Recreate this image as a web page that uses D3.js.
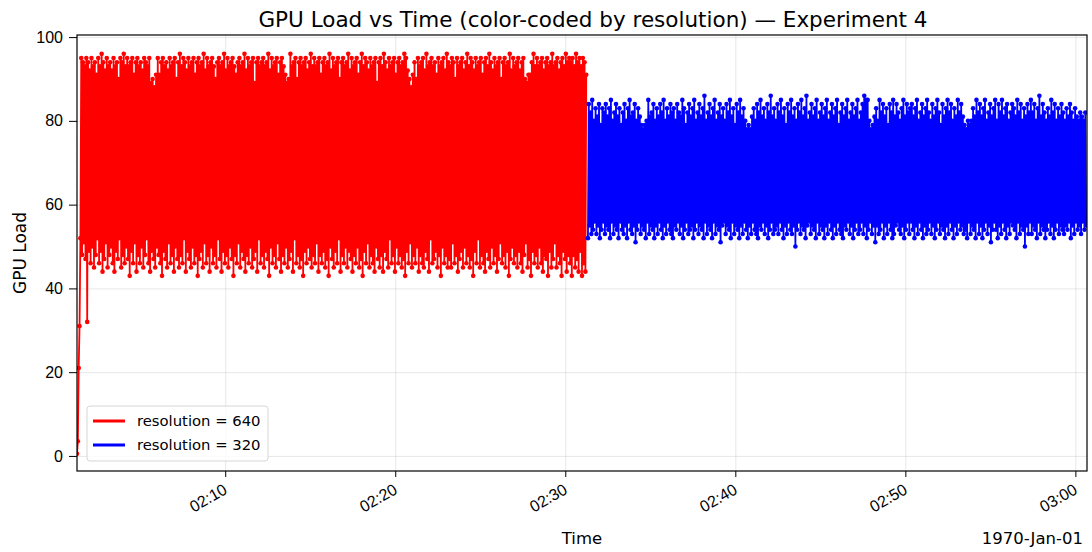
<!DOCTYPE html>
<html>
<head>
<meta charset="utf-8">
<script src="https://cdn.jsdelivr.net/npm/d3@7"></script>
<style>
  body { margin: 0; background: #fff; }
  svg { font-family: "DejaVu Sans", sans-serif; }
  .axis path, .axis line { stroke: #000; }
  .grid line { stroke: #b0b0b0; stroke-opacity: 0.3; }
  .grid path { display: none; }
</style>
</head>
<body>
<svg id="chart" width="1092" height="552"></svg>
<script>
'use strict';

let redStart = "02:01:17",
    blueStart = "02:31:20",
    stepSec = 3,
    xLimits = ["02:01:17", "03:00:41"];

let redLoad = [
  0.5, 3.5, 21, 31, 52, 95, 48, 94, 51, 93, 47, 95, 32, 94, 49, 92, 46, 95, 50, 93,
  45, 94, 48, 91, 52, 95, 46, 93, 49, 96, 44, 94, 47, 92, 51, 95, 45, 93, 48, 94,
  50, 92, 46, 95, 44, 93, 49, 94, 47, 90, 52, 95, 45, 94, 48, 96, 46, 93, 50, 95,
  47, 93, 43, 94, 49, 95, 46, 91, 51, 94, 44, 95, 48, 93, 46, 94, 50, 92, 45, 95,
  48, 94, 52, 93, 46, 95, 44, 89, 49, 90, 47, 88, 45, 91, 50, 95, 48, 91, 46, 94,
  43, 95, 49, 93, 47, 94, 45, 92, 51, 95, 46, 93, 48, 94, 44, 95, 50, 90, 47, 94,
  45, 96, 48, 93, 46, 95, 52, 94, 44, 92, 49, 95, 47, 93, 45, 94, 50, 95, 46, 91,
  48, 94, 43, 95, 47, 93, 49, 94, 45, 96, 51, 92, 46, 95, 48, 93, 44, 94, 50, 95,
  46, 93, 48, 90, 45, 94, 52, 95, 47, 93, 44, 94, 49, 96, 46, 92, 48, 95, 45, 93,
  50, 94, 47, 95, 43, 93, 48, 91, 46, 94, 51, 95, 45, 93, 49, 94, 47, 96, 44, 92,
  48, 95, 46, 93, 50, 94, 45, 95, 47, 89, 49, 94, 44, 95, 52, 93, 46, 94, 48, 95,
  45, 93, 49, 94, 47, 96, 43, 92, 50, 95, 46, 93, 48, 94, 45, 95, 51, 91, 47, 94,
  44, 95, 48, 93, 46, 91, 50, 89, 45, 90, 47, 96, 49, 93, 44, 94, 52, 95, 46, 90,
  48, 94, 45, 95, 47, 93, 43, 94, 49, 95, 46, 92, 50, 94, 47, 96, 45, 93, 48, 95,
  46, 93, 51, 94, 44, 95, 48, 91, 46, 94, 49, 95, 45, 93, 47, 94, 43, 96, 50, 92,
  47, 95, 45, 93, 49, 94, 46, 95, 52, 90, 44, 94, 48, 95, 46, 93, 50, 94, 45, 96,
  49, 92, 47, 95, 44, 93, 48, 94, 46, 95, 50, 91, 45, 94, 47, 96, 43, 93, 49, 95,
  46, 94, 51, 92, 45, 95, 48, 93, 46, 94, 44, 95, 50, 89, 47, 94, 45, 95, 48, 93,
  44, 96, 49, 94, 47, 92, 45, 95, 52, 93, 46, 94, 48, 95, 44, 91, 50, 94, 46, 95,
  48, 93, 45, 94, 47, 96, 43, 95, 49, 92, 46, 90, 51, 88, 45, 91, 48, 94, 46, 90,
  50, 95, 44, 93, 48, 94, 46, 95, 45, 92, 49, 96, 47, 93, 44, 94, 52, 95, 46, 93,
  47, 94, 49, 91, 45, 95, 48, 93, 43, 94, 50, 95, 46, 92, 48, 96, 45, 94, 47, 93,
  45, 95, 51, 94, 46, 90, 48, 95, 44, 93, 47, 94, 49, 95, 45, 92, 50, 94, 46, 96,
  48, 93, 45, 95, 47, 94, 43, 92, 49, 95, 46, 93, 52, 94, 45, 95, 48, 91, 46, 94,
  44, 95, 49, 93, 47, 96, 45, 94, 50, 92, 46, 95, 48, 93, 44, 94, 47, 95, 51, 90,
  46, 94, 48, 95, 45, 93, 49, 94, 43, 96, 47, 92, 50, 95, 46, 93, 48, 94, 45, 95,
  49, 92, 46, 94, 44, 95, 48, 90, 51, 89, 45, 91, 47, 91, 43, 94, 49, 96, 46, 93,
  48, 95, 45, 93, 50, 94, 46, 95, 44, 92, 48, 94, 47, 95, 43, 93, 49, 94, 45, 96,
  47, 93, 51, 94, 45, 95, 48, 92, 46, 94, 43, 95, 49, 93, 47, 96, 44, 94, 48, 95,
  46, 94, 43, 95, 48, 93, 45, 96, 47, 94, 44, 95, 49, 93, 43, 95, 46, 94, 44, 91
];

let blueLoad = [
  52, 84, 55, 82, 53, 85, 54, 80, 56, 83, 53, 81, 55, 84, 52, 79, 54, 83, 56, 82,
  53, 84, 55, 81, 54, 83, 52, 85, 56, 80, 53, 82, 55, 84, 54, 81, 52, 83, 56, 79,
  54, 82, 53, 84, 55, 80, 52, 83, 56, 85, 54, 81, 53, 82, 55, 84, 51, 80, 54, 83,
  56, 81, 53, 79, 55, 78, 54, 79, 52, 80, 56, 85, 53, 81, 55, 82, 54, 84, 52, 80,
  55, 83, 53, 81, 56, 84, 54, 82, 52, 85, 55, 80, 53, 83, 56, 81, 54, 84, 53, 82,
  52, 83, 55, 80, 54, 84, 56, 82, 53, 81, 55, 85, 52, 83, 54, 79, 56, 82, 53, 84,
  54, 81, 55, 83, 52, 85, 54, 80, 56, 82, 53, 84, 55, 81, 54, 83, 52, 86, 56, 80,
  53, 82, 55, 84, 54, 81, 52, 83, 56, 85, 53, 80, 55, 82, 54, 84, 51, 81, 55, 83,
  56, 80, 53, 84, 55, 82, 54, 85, 52, 81, 56, 83, 53, 79, 55, 84, 54, 82, 52, 85,
  55, 81, 53, 83, 56, 80, 54, 78, 52, 79, 55, 78, 53, 81, 56, 83, 54, 80, 53, 84,
  52, 82, 55, 85, 54, 81, 56, 83, 53, 80, 55, 84, 52, 82, 54, 86, 56, 81, 53, 83,
  54, 80, 55, 84, 53, 82, 56, 85, 54, 81, 52, 83, 55, 79, 53, 84, 56, 82, 54, 85,
  53, 81, 55, 83, 50, 80, 54, 84, 56, 82, 53, 85, 55, 81, 54, 83, 52, 86, 55, 80,
  56, 82, 53, 84, 55, 81, 54, 83, 52, 85, 56, 80, 53, 82, 55, 84, 54, 81, 52, 83,
  55, 85, 53, 80, 56, 82, 54, 84, 52, 81, 55, 83, 53, 85, 56, 79, 54, 82, 53, 84,
  52, 81, 55, 83, 54, 85, 56, 80, 53, 82, 55, 84, 52, 81, 54, 83, 56, 85, 53, 80,
  54, 82, 56, 84, 53, 86, 55, 85, 52, 85, 54, 80, 56, 78, 53, 79, 55, 81, 51, 83,
  55, 80, 53, 85, 54, 82, 56, 84, 52, 81, 55, 83, 53, 79, 56, 84, 54, 82, 52, 85,
  53, 81, 55, 84, 56, 82, 54, 80, 53, 83, 55, 85, 52, 81, 54, 84, 56, 82, 53, 83,
  56, 84, 54, 81, 52, 83, 55, 85, 53, 80, 56, 82, 54, 84, 52, 81, 55, 83, 53, 85,
  54, 82, 56, 80, 53, 84, 55, 81, 52, 83, 54, 85, 56, 82, 53, 79, 55, 84, 54, 81,
  52, 83, 55, 85, 53, 82, 56, 84, 54, 80, 52, 83, 55, 81, 53, 85, 56, 82, 54, 84,
  55, 81, 53, 79, 54, 78, 52, 80, 56, 79, 53, 80, 55, 83, 54, 81, 52, 85, 56, 82,
  53, 84, 55, 81, 52, 83, 54, 85, 56, 80, 53, 82, 55, 84, 51, 81, 54, 83, 56, 85,
  54, 80, 52, 84, 55, 82, 53, 85, 56, 81, 54, 83, 52, 84, 55, 80, 53, 82, 56, 84,
  55, 83, 54, 81, 52, 85, 56, 82, 53, 84, 55, 80, 54, 83, 50, 81, 55, 84, 53, 82,
  56, 85, 53, 82, 55, 84, 54, 80, 52, 83, 56, 86, 53, 81, 55, 84, 54, 82, 52, 80,
  54, 83, 56, 81, 53, 85, 55, 82, 52, 84, 54, 80, 56, 83, 53, 81, 55, 84, 54, 82,
  53, 80, 55, 83, 54, 81, 56, 84, 52, 82, 55, 80, 53, 83, 56, 81, 54, 80, 55, 82,
  53, 81, 56, 80, 54, 82, 55
];

let yTicks = [0, 20, 40, 60, 80, 100],
    xTicks = ["02:10", "02:20", "02:30", "02:40", "02:50", "03:00"];

let series = [
  {label: "resolution = 640", color: "#ff0000", start: redStart, values: redLoad},
  {label: "resolution = 320", color: "#0000ff", start: blueStart, values: blueLoad}
];

let parseT = d3.utcParse("%Y-%m-%d %H:%M:%S"),
    parseTick = d3.utcParse("%Y-%m-%d %H:%M");

series.forEach(function(s) {
  let t0 = parseT("1970-01-01 " + s.start);
  s.points = s.values.map(function(v, i) {
    return {t: new Date(t0.getTime() + i * stepSec * 1000), v: v};
  });
});

let svg = d3.select("#chart"),
    margin = {top: 35, right: 5, bottom: 81, left: 77},
    width = +svg.attr("width") - margin.left - margin.right,
    height = +svg.attr("height") - margin.top - margin.bottom;

let x = d3.scaleUtc()
    .domain(xLimits.map(function(s) { return parseT("1970-01-01 " + s); }))
    .range([0, width]);
let y = d3.scaleLinear().domain([-3.6, 100.5]).range([height, 0]);

let xTickDates = xTicks.map(function(s) { return parseTick("1970-01-01 " + s); });

let g = svg.append("g")
    .attr("transform", "translate(" + margin.left + "," + margin.top + ")");

// gridlines
g.append("g")
    .attr("class", "grid")
    .call(d3.axisLeft(y).tickValues(yTicks).tickSize(-width).tickFormat(""));
g.append("g")
    .attr("class", "grid")
    .attr("transform", "translate(0," + height + ")")
    .call(d3.axisBottom(x).tickValues(xTickDates).tickSize(-height).tickFormat(""));

svg.append("defs").append("clipPath").attr("id", "clip")
  .append("rect").attr("width", width).attr("height", height);

let line = d3.line()
    .x(function(d) { return x(d.t); })
    .y(function(d) { return y(d.v); });

let plot = g.append("g").attr("clip-path", "url(#clip)");

series.forEach(function(s) {
  plot.append("path")
      .datum(s.points)
      .attr("fill", "none")
      .attr("stroke", s.color)
      .attr("stroke-width", 1.8)
      .attr("stroke-linejoin", "round")
      .attr("d", line);
  plot.append("g").selectAll("circle")
      .data(s.points)
      .enter().append("circle")
      .attr("cx", function(d) { return x(d.t); })
      .attr("cy", function(d) { return y(d.v); })
      .attr("r", 2.3)
      .attr("fill", s.color);
});

// axes
let yAxis = g.append("g")
    .attr("class", "axis")
    .call(d3.axisLeft(y).tickValues(yTicks).tickSize(8).tickPadding(6));
yAxis.selectAll("text").attr("font-size", 16).attr("fill", "#000");
yAxis.select(".domain").remove();

let xAxis = g.append("g")
    .attr("class", "axis")
    .attr("transform", "translate(0," + height + ")")
    .call(d3.axisBottom(x).tickValues(xTickDates).tickSize(6)
      .tickFormat(d3.utcFormat("%H:%M")));
xAxis.select(".domain").remove();
xAxis.selectAll("text")
    .attr("font-size", 16)
    .attr("fill", "#000")
    .attr("text-anchor", "end")
    .attr("dy", null)
    .attr("y", 0)
    .attr("transform", "translate(-3,12) rotate(-30)")
    .attr("dominant-baseline", "hanging");

// frame
g.append("rect")
    .attr("width", width)
    .attr("height", height)
    .attr("fill", "none")
    .attr("stroke", "#000")
    .attr("stroke-width", 1.2);

// title and labels
svg.append("text")
    .attr("x", 593)
    .attr("y", 27)
    .attr("text-anchor", "middle")
    .attr("font-size", 21.5)
    .text("GPU Load vs Time (color-coded by resolution) \u2014 Experiment 4");

svg.append("text")
    .attr("transform", "translate(26," + (margin.top + height / 2) + ") rotate(-90)")
    .attr("text-anchor", "middle")
    .attr("font-size", 17)
    .text("GPU Load");

svg.append("text")
    .attr("x", margin.left + width / 2)
    .attr("y", 544)
    .attr("text-anchor", "middle")
    .attr("font-size", 16.5)
    .text("Time");

svg.append("text")
    .attr("x", 1083)
    .attr("y", 544)
    .attr("text-anchor", "end")
    .attr("font-size", 16.5)
    .text("1970-Jan-01");

// legend
let legend = g.append("g").attr("transform", "translate(10," + (height - 65) + ")");
legend.append("rect")
    .attr("width", 181)
    .attr("height", 55)
    .attr("rx", 3)
    .attr("fill", "#fff")
    .attr("fill-opacity", 0.8)
    .attr("stroke", "#d6d6d6");
series.forEach(function(s, i) {
  let row = legend.append("g").attr("transform", "translate(6," + (15 + i * 24) + ")");
  row.append("line")
      .attr("x1", 0).attr("x2", 32)
      .attr("stroke", s.color)
      .attr("stroke-width", 3);
  row.append("text")
      .attr("x", 44)
      .attr("dy", "0.35em")
      .attr("font-size", 14.8)
      .text(s.label);
});
</script>
</body>
</html>
